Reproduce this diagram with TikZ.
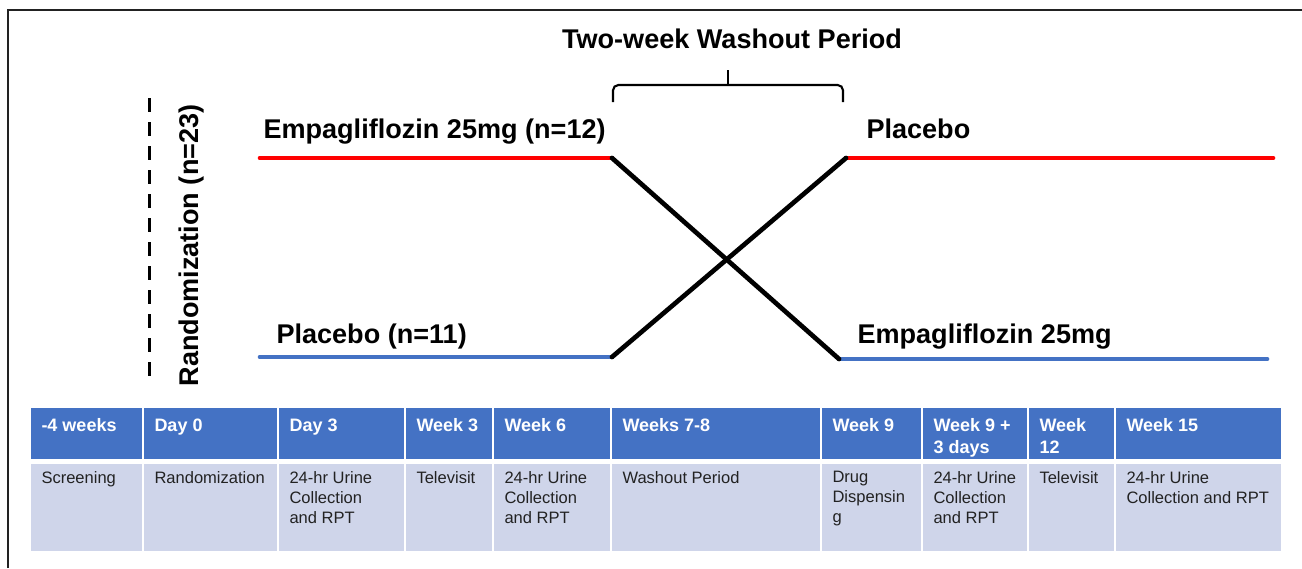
\documentclass[tikz,border=0pt]{standalone}
\usepackage{fontspec}
\setmainfont{Liberation Sans}

\definecolor{hdblue}{RGB}{68,114,196}
\definecolor{bdlav}{RGB}{207,213,234}
\definecolor{armred}{RGB}{255,0,0}
\definecolor{framegray}{RGB}{34,34,34}

\tikzset{every picture/.style={line width=0.75pt}}
\tikzset{
  armline/.style={line width=3.5pt, line cap=round},
  lbl/.style={anchor=base west, inner sep=0pt, font=\fontsize{20.3}{24}\selectfont\bfseries},
  hdcell/.style={fill=hdblue, draw=white, line width=1.5pt},
  bdcell/.style={fill=bdlav, draw=white, line width=1.5pt},
  hdtext/.style={anchor=north west, inner sep=0pt, align=left, text=white, font=\fontsize{13.5}{16.5}\selectfont\bfseries},
  bdtext/.style={anchor=north west, inner sep=0pt, align=left, text=framegray, font=\fontsize{12.4}{15}\selectfont},
}

\begin{document}
\begin{tikzpicture}[x=0.75pt,y=0.75pt,yscale=-1,xscale=1]
\useasboundingbox (0,0) rectangle (1302,568);

%Shape: Frame
\draw  [color=framegray][line width=2pt] (8,568) -- (8,10) -- (1302,10) ;

% Text Node
\node [lbl, anchor=base] (washTitle) at (732,48) {Two-week Washout Period};
%Shape: Bracket
\draw  [line width=1.6pt][rounded corners=4] (613,102) -- (613,85) -- (843,85) -- (843,102) ;
\draw  [line width=1.6pt] (728,85) -- (728,70) ;

%Straight Lines: randomization
\draw  [line width=2.25pt][dash pattern=on 10.5pt off 7.5pt] (149,98) -- (149,383) ;
% Text Node
\node [lbl, anchor=base, rotate=90] (randLabel) at (198,245.5) {Randomization (n=23)};

% arm points
\coordinate (topL) at (260,158);
\coordinate (topM) at (612,158);
\coordinate (topR) at (846,158);
\coordinate (topE) at (1273,158);
\coordinate (botL) at (260,357);
\coordinate (botM) at (612,357);
\coordinate (botR) at (839,359);
\coordinate (botE) at (1267,359);

%Straight Lines: arms
\draw  [armline, armred] (topL) -- (topM) ;
\draw  [armline, armred] (topR) -- (topE) ;
\draw  [armline, hdblue] (botL) -- (botM) ;
\draw  [armline, hdblue] (botR) -- (botE) ;
%Straight Lines: crossover
\draw  [armline] (topM) -- (botR) ;
\draw  [armline] (botM) -- (topR) ;

% Text Node
\node [lbl] (empaArmA) at (263,138) {Empagliflozin 25mg (n=12)};
% Text Node
\node [lbl] (placArmA) at (866,138) {Placebo};
% Text Node
\node [lbl] (placArmB) at (276,343) {Placebo (n=11)};
% Text Node
\node [lbl] (empaArmB) at (857,343) {Empagliflozin 25mg};

%Table: schedule
\foreach \i/\xa/\xb/\hd/\bd in {
  1/30/143/{-4 weeks}/{Screening},
  2/143/278/{Day 0}/{Randomization},
  3/278/405/{Day 3}/{24-hr Urine\\Collection\\and RPT},
  4/405/493/{Week 3}/{Televisit},
  5/493/611/{Week 6}/{24-hr Urine\\Collection\\and RPT},
  6/611/821/{Weeks 7-8}/{Washout Period},
  7/821/922/{Week 9}/{Drug\\Dispensin\\g},
  8/922/1028/{Week 9 +\\3 days}/{24-hr Urine\\Collection\\and RPT},
  9/1028/1115/{Week\\12}/{Televisit},
  10/1115/1282/{Week 15}/{24-hr Urine\\Collection and RPT}}
{
  \draw [hdcell] (\xa,407) rectangle (\xb,460) ;
  \draw [bdcell] (\xa,463) rectangle (\xb,552) ;
  \node [hdtext] (hd\i) at (\xa+11,418) {\hd};
  \node [bdtext] (bd\i) at (\xa+11,471) {\bd};
}

\end{tikzpicture}
\end{document}
